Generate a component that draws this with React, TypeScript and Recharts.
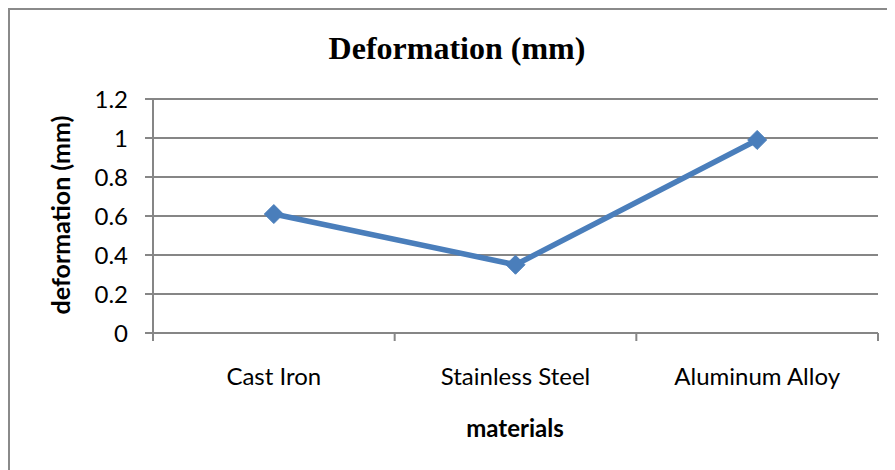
import { CartesianGrid, Line, LineChart, XAxis, YAxis } from "recharts";

const materials = ["Cast Iron", "Stainless Steel", "Aluminum Alloy"];
const deformation = [0.61, 0.35, 0.99];
const yTicks = [0, 0.2, 0.4, 0.6, 0.8, 1, 1.2];

const chartData = materials.map((material, i) => ({
  material,
  deformation: deformation[i],
}));

const W = 887;
const H = 462;
const PLOT_LEFT = 145;
const PLOT_RIGHT = 870;
const BAND = (PLOT_RIGHT - PLOT_LEFT) / materials.length;
const GRID = "#868686";
const BLUE = "#4a7ebb";
const SANS = "Lato, 'Open Sans', sans-serif";

function Diamond(props: any) {
  const { cx, cy } = props;
  if (cx == null || cy == null) return null;
  const r = 9.5;
  return (
    <path
      d={`M${cx},${cy - r}L${cx + r},${cy}L${cx},${cy + r}L${cx - r},${cy}Z`}
      fill={BLUE}
      stroke={BLUE}
    />
  );
}

function CategoryTick(props: any) {
  const { x, y, payload, index } = props;
  const last = index === materials.length - 1;
  return (
    <g>
      <line x1={x - BAND / 2} y1={y} x2={x - BAND / 2} y2={y + 8} stroke={GRID} strokeWidth={2} />
      {last && (
        <line x1={x + BAND / 2} y1={y} x2={x + BAND / 2} y2={y + 8} stroke={GRID} strokeWidth={2} />
      )}
      <text x={x} y={y + 52} textAnchor="middle" fontFamily={SANS} fontSize={24} fill="#000">
        {payload.value}
      </text>
    </g>
  );
}

export default function App() {
  return (
    <div style={{ position: "relative", width: W, height: H }}>
      <div
        style={{
          position: "absolute",
          left: 0,
          top: 0,
          right: 0,
          bottom: 0,
          borderLeft: "2px solid #8a8a8a",
          borderTop: "2px solid #8a8a8a",
        }}
      />
      <LineChart
        width={W}
        height={H}
        data={chartData}
        margin={{ top: 91, right: W - PLOT_RIGHT, left: 0, bottom: 0 }}
        style={{ position: "absolute", left: 0, top: 0, background: "transparent" }}
      >
        <CartesianGrid vertical={false} stroke={GRID} strokeWidth={2} />
        <XAxis
          dataKey="material"
          height={H - 325}
          padding={{ left: BAND / 2, right: BAND / 2 }}
          axisLine={{ stroke: GRID, strokeWidth: 2 }}
          tickLine={false}
          tickSize={0}
          tickMargin={0}
          tick={<CategoryTick />}
          interval={0}
        />
        <YAxis
          width={PLOT_LEFT}
          domain={[0, 1.2]}
          ticks={yTicks}
          interval={0}
          axisLine={{ stroke: GRID, strokeWidth: 2 }}
          tickLine={{ stroke: GRID, strokeWidth: 2 }}
          tickSize={8}
          tickMargin={17}
          tick={{ fontFamily: SANS, fontSize: 24, fill: "#000" }}
        />
        <Line
          dataKey="deformation"
          stroke={BLUE}
          strokeWidth={5.5}
          dot={<Diamond />}
          activeDot={false}
          isAnimationActive={false}
        />
        <text
          x={449}
          y={51}
          textAnchor="middle"
          fontFamily="'Liberation Serif', 'Times New Roman', serif"
          fontWeight="bold"
          fontSize={32}
          fill="#000"
        >
          Deformation (mm)
        </text>
        <text
          x={62}
          y={207}
          transform="rotate(-90, 62, 207)"
          textAnchor="middle"
          fontFamily={SANS}
          fontWeight="bold"
          fontSize={25}
          fill="#000"
        >
          deformation (mm)
        </text>
        <text
          x={507}
          y={429}
          textAnchor="middle"
          fontFamily={SANS}
          fontWeight="bold"
          fontSize={24}
          fill="#000"
        >
          materials
        </text>
      </LineChart>
    </div>
  );
}
